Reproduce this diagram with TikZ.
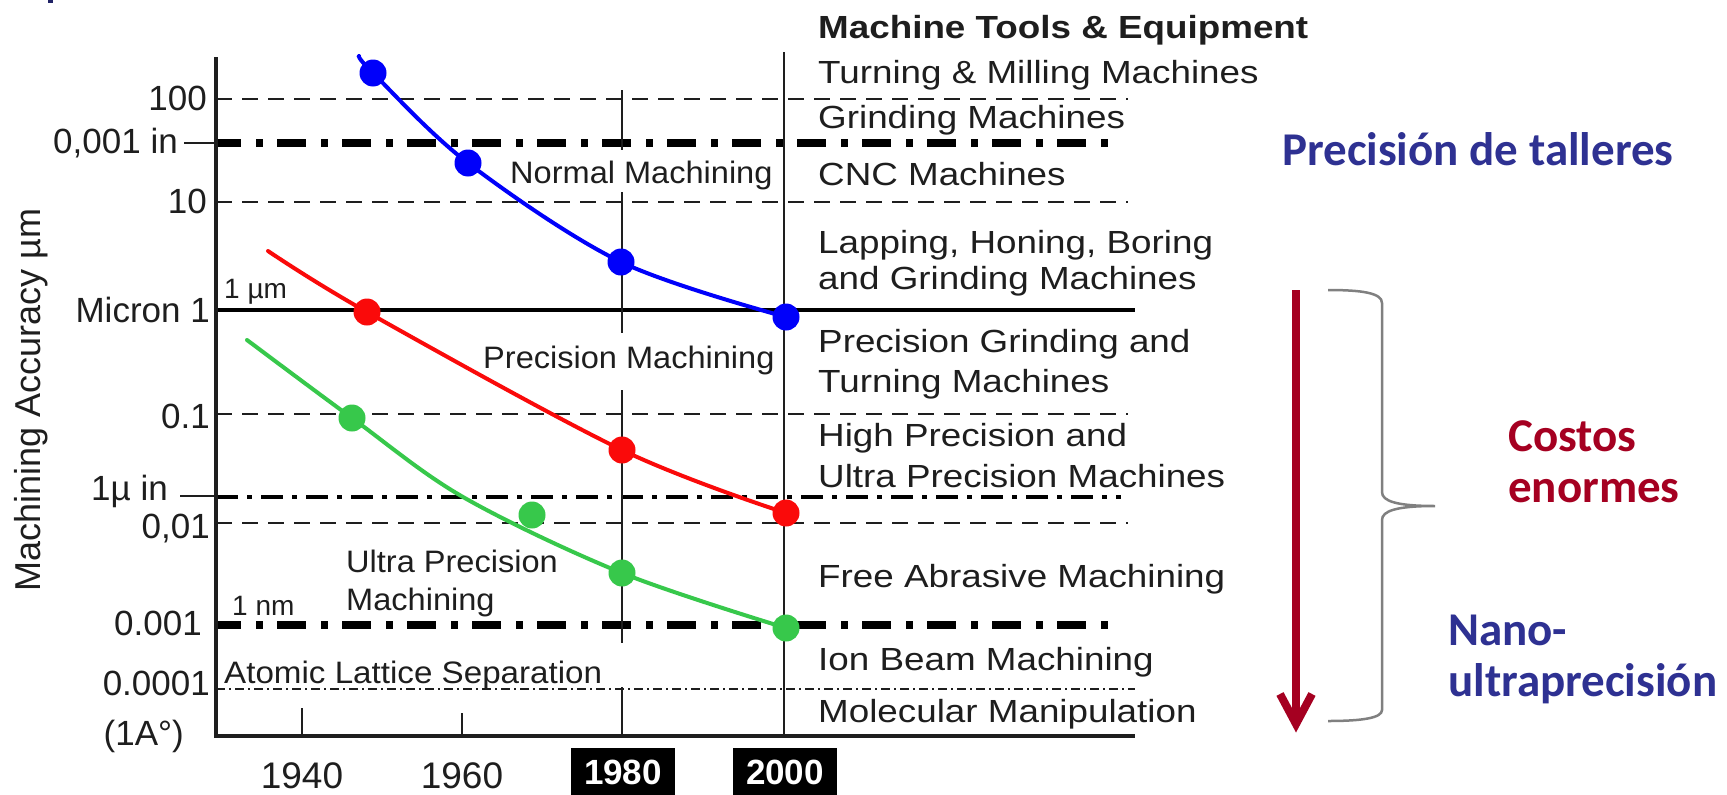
\documentclass[tikz,border=0pt]{standalone}
\usepackage{fontspec}
\usepackage{graphicx}
\setmainfont{Liberation Sans}
\newfontfamily\calib{Carlito}

\definecolor{ink}{RGB}{30,30,30}
\definecolor{cblue}{RGB}{0,0,250}
\definecolor{cred}{RGB}{250,10,10}
\definecolor{cgreen}{RGB}{55,200,75}
\definecolor{navy}{RGB}{46,49,146}
\definecolor{wine}{RGB}{165,0,33}
\definecolor{bracegray}{RGB}{128,128,128}

% horizontal stretch of the chart lettering
\newcommand\wideA[1]{\scalebox{1.15}[1]{#1}}
\newcommand\wideB[1]{\scalebox{1.05}[1]{#1}}

\tikzset{
  axisline/.style={line width=4.5, ink, line join=miter},
  tickline/.style={line width=2, ink},
  gridline/.style={line width=2, ink, dash pattern=on 16 off 10},
  thickdashdot/.style={line width=8.5, black, dash pattern=on 29 off 15 on 7 off 14, dash phase=4},
  middashdot/.style={line width=4.5, black, dash pattern=on 22 off 9 on 5 off 9},
  thindashdot/.style={line width=1.6, ink, dash pattern=on 9 off 4 on 2 off 4},
  yearline/.style={line width=2.5, ink},
  curve/.style={line width=4, line cap=round},
  axislab/.style={font=\fontsize{35}{40}\selectfont, text=ink, inner sep=0pt, anchor=base east},
  yearlab/.style={font=\fontsize{37}{42}\selectfont, text=ink, inner sep=0pt, anchor=base},
  yearbox/.style={fill=black, text=white, font=\bfseries\fontsize{35}{40}\selectfont,
                  minimum width=104, minimum height=48, inner sep=0pt},
  toollab/.style={font=\fontsize{32}{38}\selectfont, text=ink, inner sep=0pt, anchor=base west},
  regionlab/.style={font=\fontsize{31}{36}\selectfont, text=ink, inner sep=0pt, anchor=base west},
  smalllab/.style={font=\fontsize{28}{32}\selectfont, text=ink, inner sep=0pt, anchor=base west},
  note/.style={font=\calib\bfseries\fontsize{47}{51}\selectfont, inner sep=0pt, anchor=base west},
}

\begin{document}
\begin{tikzpicture}[x=1pt,y=-1pt]
\useasboundingbox (0,0) rectangle (1727,795);
\fill[white] (0,0) rectangle (1727,795);

% fragment of a heading glyph at the upper edge
\fill[navy!70!black] (48,0) rectangle (53,3);

% ---------- horizontal reference lines ----------
\draw[gridline] (216,99) -- (1128,99);
\draw[thickdashdot] (216,143) -- (1121,143);
\draw[gridline] (216,202) -- (1128,202);
\draw[line width=4.5, black] (216,310) -- (1135,310);
\draw[gridline] (216,414) -- (1128,414);
\draw[middashdot] (216,497) -- (1121,497);
\draw[gridline] (216,523) -- (1128,523);
\draw[thickdashdot] (216,625) -- (1121,625);
\draw[thindashdot] (216,689) -- (1135,689);

% tick stubs for the inch marks
\draw[tickline] (184,143) -- (216,143);
\draw[tickline] (180,496) -- (216,496);

% ---------- vertical year lines ----------
\draw[yearline] (622,90) -- (622,150);
\draw[yearline] (622,192) -- (622,333);
\draw[yearline] (622,390) -- (622,643);
\draw[yearline] (622,687) -- (622,736);
\draw[yearline] (784,52) -- (784,736);

% ---------- axes ----------
\draw[axisline] (216,57) -- (216,736) -- (1135,736);
\draw[tickline] (302,708) -- (302,736);
\draw[tickline] (462,713) -- (462,736);

% ---------- data points ----------
\coordinate (b0) at (359,56);
\coordinate (b1) at (373,73);
\coordinate (b2) at (468,163);
\coordinate (b3) at (621,262);
\coordinate (b4) at (786,317);

\coordinate (r0) at (268,251);
\coordinate (r1) at (367,312);
\coordinate (r2) at (622,450);
\coordinate (r3) at (786,513);

\coordinate (g0) at (247,340);
\coordinate (g1) at (352,418);
\coordinate (g2) at (463,497);
\coordinate (g3) at (622,573);
\coordinate (g4) at (786,628);
\coordinate (gx) at (532,515);

\draw[curve, cblue] plot[smooth, tension=0.55] coordinates {(b0) (b1) (b2) (b3) (b4)};
\draw[curve, cred] plot[smooth, tension=0.55] coordinates {(r0) (r1) (r2) (r3)};
\draw[curve, cgreen] plot[smooth, tension=0.55] coordinates {(g0) (g1) (g2) (g3) (g4)};

\foreach \p in {b1,b2,b3,b4} \fill[cblue] (\p) circle (13.5);
\foreach \p in {r1,r2,r3} \fill[cred] (\p) circle (13.5);
\foreach \p in {g1,gx,g3,g4} \fill[cgreen] (\p) circle (13.5);

% ---------- axis labels ----------
\node[axislab] (l100) at (207,110) {100};
\node[axislab] (linch) at (178,153) {0,001 in};
\node[axislab] (l10) at (207,213) {10};
\node[axislab] (lmicron) at (210,322) {Micron 1};
\node[axislab] (l01) at (210,428) {0.1};
\node[axislab] (lmuin) at (168,500) {1µ in};
\node[axislab] (l001) at (210,538) {0,01};
\node[axislab] (l0001) at (202,635) {0.001};
\node[axislab] (l00001) at (210,695) {0.0001};
\node[axislab] (langst) at (184,745) {(1A°)};

\node[font=\fontsize{36}{40}\selectfont, text=ink, rotate=90, inner sep=0pt] (ytitle) at (31,400) {Machining Accuracy µm};

\node[yearlab] (y1940) at (302,788) {1940};
\node[yearlab] (y1960) at (462,788) {1960};
\node[yearbox] (y1980) at (623,772) {1980};
\node[yearbox] (y2000) at (785,772) {2000};

% ---------- labels inside the chart ----------
\node[smalllab] (onemu) at (224,298) {1 µm};
\node[smalllab] (onenm) at (232,615) {1 nm};
\node[regionlab] (normal) at (510,183) {\wideB{Normal Machining}};
\node[regionlab] (precision) at (483,368) {\wideB{Precision Machining}};
\node[regionlab] (ultra1) at (346,572) {\wideB{Ultra Precision}};
\node[regionlab] (ultra2) at (346,610) {\wideB{Machining}};
\node[regionlab] (atomic) at (224,683) {\scalebox{1.07}[1]{Atomic Lattice Separation}};

% ---------- machine tools column ----------
\node[toollab, font=\bfseries\fontsize{32}{38}\selectfont] (mthead) at (818,38) {\wideA{Machine Tools \& Equipment}};
\node[toollab] (t1) at (818,83) {\wideA{Turning \& Milling Machines}};
\node[toollab] (t2) at (818,128) {\wideA{Grinding Machines}};
\node[toollab] (t3) at (818,185) {\wideA{CNC Machines}};
\node[toollab] (t4a) at (818,253) {\wideA{Lapping, Honing, Boring}};
\node[toollab] (t4b) at (818,289) {\wideA{and Grinding Machines}};
\node[toollab] (t5a) at (818,352) {\wideA{Precision Grinding and}};
\node[toollab] (t5b) at (818,392) {\wideA{Turning Machines}};
\node[toollab] (t6a) at (818,446) {\wideA{High Precision and}};
\node[toollab] (t6b) at (818,487) {\wideA{Ultra Precision Machines}};
\node[toollab] (t7) at (818,587) {\wideA{Free Abrasive Machining}};
\node[toollab] (t8) at (818,670) {\wideA{Ion Beam Machining}};
\node[toollab] (t9) at (818,722) {\wideA{Molecular Manipulation}};

% ---------- side notes ----------
\node[note, text=navy] (taller) at (1282,165) {Precisión de talleres};
\node[note, text=wine] (cost1) at (1508,451) {Costos};
\node[note, text=wine] (cost2) at (1508,502) {enormes};
\node[note, text=navy] (nano1) at (1448,645) {Nano-};
\node[note, text=navy] (nano2) at (1448,696) {ultraprecisión};

% downward arrow
\coordinate (atop) at (1296,290);
\coordinate (atip) at (1296,724);
\coordinate (aleft) at (1280,694);
\coordinate (aright) at (1312,694);
\draw[wine, line width=8] (atop) -- (atip);
\draw[wine, line width=8, line join=miter] (aleft) -- (atip) -- (aright);

% curly brace
\coordinate (btop) at (1328,290);
\coordinate (btip) at (1435,506);
\coordinate (bbot) at (1328,721);
\draw[bracegray, line width=2.5]
  (btop) .. controls (1362,290) and (1382,293) .. (1382,303)
  -- (1382,492) .. controls (1382,501) and (1396,506) .. (btip)
  (btip) .. controls (1396,506) and (1382,511) .. (1382,520)
  -- (1382,710) .. controls (1382,718) and (1362,721) .. (bbot);
\end{tikzpicture}
\end{document}
